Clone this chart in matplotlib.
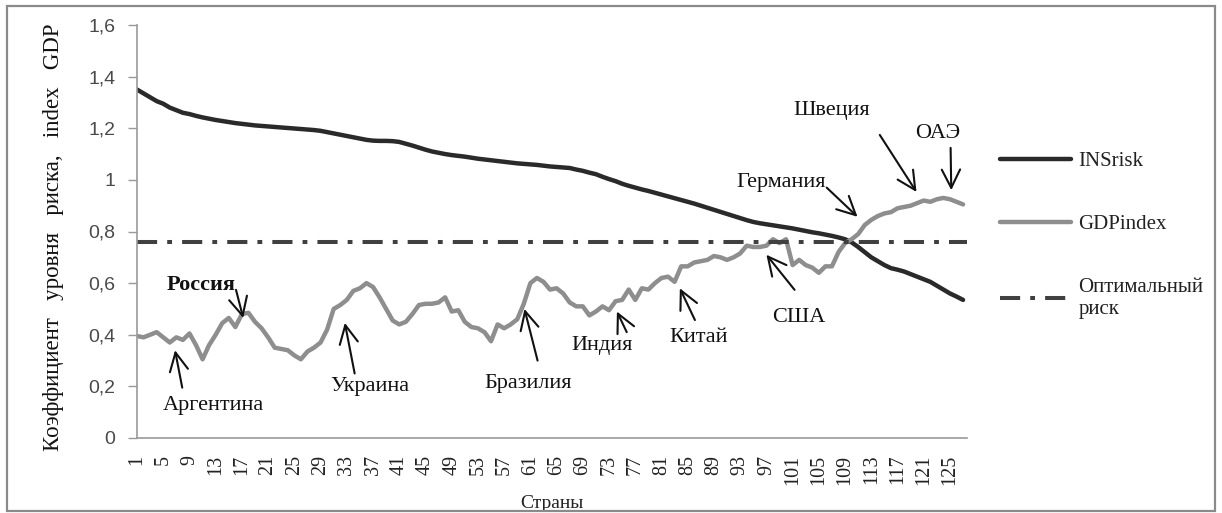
import numpy as np
import matplotlib
matplotlib.use('Agg')
import matplotlib.pyplot as plt
from matplotlib.patches import Rectangle

# --- data ---
countries = np.arange(1, 128)

ins_risk = [
    1.35, 1.335, 1.32, 1.305, 1.295, 1.28, 1.27, 1.26, 1.255, 1.248,
    1.242, 1.237, 1.232, 1.228, 1.224, 1.22, 1.217, 1.214, 1.211, 1.209,
    1.207, 1.205, 1.203, 1.201, 1.199, 1.197, 1.195, 1.193, 1.19, 1.185,
    1.18, 1.175, 1.17, 1.165, 1.16, 1.155, 1.152, 1.151, 1.151, 1.15,
    1.147, 1.14, 1.133, 1.125, 1.117, 1.11, 1.105, 1.1, 1.096, 1.093,
    1.09, 1.086, 1.082, 1.079, 1.076, 1.073, 1.07, 1.067, 1.064, 1.062,
    1.06, 1.058, 1.055, 1.052, 1.05, 1.048, 1.046, 1.04, 1.035, 1.028,
    1.022, 1.012, 1.003, 0.995, 0.985, 0.977, 0.97, 0.963, 0.957, 0.95,
    0.943, 0.936, 0.929, 0.922, 0.915, 0.908, 0.9, 0.892, 0.884, 0.876,
    0.868, 0.86, 0.852, 0.844, 0.837, 0.832, 0.828, 0.824, 0.82, 0.816,
    0.812, 0.807, 0.802, 0.797, 0.793, 0.788, 0.783, 0.777, 0.77, 0.758,
    0.74, 0.72, 0.70, 0.685, 0.67, 0.658, 0.652, 0.645, 0.635, 0.625,
    0.615, 0.605, 0.59, 0.575, 0.56, 0.548, 0.535,
]

gdp_index = [
    0.395, 0.39, 0.40, 0.41, 0.39, 0.37, 0.39, 0.38, 0.405, 0.36,
    0.305, 0.36, 0.40, 0.445, 0.465, 0.43, 0.48, 0.485, 0.45, 0.425,
    0.39, 0.35, 0.345, 0.34, 0.32, 0.305, 0.335, 0.35, 0.37, 0.42,
    0.50, 0.515, 0.535, 0.57, 0.58, 0.60, 0.585, 0.545, 0.50, 0.455,
    0.44, 0.45, 0.48, 0.515, 0.52, 0.52, 0.525, 0.545, 0.49, 0.495,
    0.45, 0.43, 0.425, 0.41, 0.375, 0.44, 0.425, 0.44, 0.46, 0.52,
    0.60, 0.62, 0.605, 0.575, 0.58, 0.56, 0.525, 0.51, 0.51, 0.475,
    0.49, 0.51, 0.495, 0.53, 0.535, 0.575, 0.535, 0.58, 0.575, 0.60,
    0.62, 0.625, 0.605, 0.665, 0.665, 0.68, 0.685, 0.69, 0.705, 0.70,
    0.69, 0.70, 0.715, 0.745, 0.74, 0.74, 0.745, 0.77, 0.755, 0.77,
    0.67, 0.69, 0.67, 0.66, 0.64, 0.665, 0.665, 0.72, 0.755, 0.77,
    0.79, 0.825, 0.845, 0.86, 0.87, 0.875, 0.89, 0.895, 0.90, 0.91,
    0.92, 0.915, 0.925, 0.93, 0.925, 0.915, 0.905,
]

optimal_risk = 0.76

# label, text position (x, y), arrow tip (x, y), arrow tail (x, y), bold
notes = [
    ('Аргентина', (12.6, 0.124), (6.8, 0.34), (7.9, 0.195), False),
    ('Россия', (10.75, 0.593), (17.2, 0.465), (16.1, 0.574), True),
    ('Украина', (36.5, 0.20), (32.7, 0.446), (34.2, 0.25), False),
    ('Бразилия', (60.6, 0.21), (60.1, 0.50), (62.1, 0.30), False),
    ('Индия', (71.9, 0.357), (74.2, 0.49), (75.7, 0.41), False),
    ('Китай', (86.7, 0.39), (83.8, 0.58), (86.1, 0.457), False),
    ('США', (102.0, 0.465), (97.0, 0.71), (101.3, 0.574), False),
    ('Германия', (99.3, 0.99), (110.9, 0.857), (106.2, 0.97), False),
    ('Швеция', (106.9, 1.27), (119.9, 0.953), (114.3, 1.174), False),
    ('ОАЭ', (123.1, 1.18), (125.2, 0.96), (125.1, 1.124), False),
]

SERIF = 'Liberation Serif'
SANS = 'Liberation Sans'

fig = plt.figure(figsize=(12.22, 5.13), dpi=100)
ax = fig.add_axes([137/1222, 1 - 438/513, (967 - 137)/1222, (438 - 25)/513])

ax.plot(countries, ins_risk, color='#2a2a2a', lw=3.2, label='INSrisk',
        solid_capstyle='round')
ax.plot(countries, gdp_index, color='#8e8e8e', lw=3.2, label='GDPindex',
        solid_capstyle='round')
ax.axhline(optimal_risk, color='#404040', lw=2.9,
           linestyle=(0, (5, 2.5, 1.2, 2.5)), dash_capstyle='butt',
           label='Оптимальный\nриск')

for text, xy_text, tip, tail, bold in notes:
    ax.text(xy_text[0], xy_text[1], text, family=SERIF, fontsize=16,
            weight='bold' if bold else 'normal', ha='center', va='center',
            color='#111111')
    ax.annotate('', xy=tip, xytext=tail,
                arrowprops=dict(arrowstyle='->,head_length=0.6,head_width=0.3',
                                color='#111111', lw=1.5,
                                mutation_scale=22, shrinkA=0, shrinkB=0))

ax.set_xlim(1, 127.6)
ax.set_ylim(0, 1.6)

yt = np.arange(0, 1.61, 0.2)
ax.set_yticks(yt)
ax.set_yticklabels([('%g' % round(v, 1)).replace('.', ',') for v in yt],
                   family=SANS, fontsize=14, color='#4a4a4a')
xt = np.arange(1, 127, 4)
ax.set_xticks(xt)
ax.set_xticklabels([str(v) for v in xt], rotation=90, family=SERIF,
                   fontsize=14.5, color='#222222')
ax.tick_params(axis='y', length=6.5, width=1, color='#999999', pad=9)
ax.tick_params(axis='x', length=0, pad=12)

for s in ['top', 'right']:
    ax.spines[s].set_visible(False)
for s in ['left', 'bottom']:
    ax.spines[s].set_color('#9a9a9a')
    ax.spines[s].set_linewidth(1.2)

ax.set_ylabel('Коэффициент   уровня   риска,   index   GDP', family=SERIF,
              fontsize=16.5, color='#111111', va='center')
ax.yaxis.set_label_coords(-0.1, 0.485)
ax.set_xlabel('Страны', family=SERIF, fontsize=14, color='#222222',
              va='center')
ax.xaxis.set_label_coords(0.5, -0.158)

leg = ax.legend(loc='upper left', bbox_to_anchor=(992/1222, 1 - 143/513),
                bbox_transform=fig.transFigure, frameon=False,
                prop={'family': SERIF, 'size': 15}, handlelength=3.4,
                handletextpad=0.35, labelspacing=2.1, borderaxespad=0)
for t in leg.get_texts():
    t.set_color('#222222')

fig.patches.append(Rectangle((7/1222, 2/513), 1208/1222, 505/513,
                             transform=fig.transFigure, fill=False,
                             edgecolor='#8a8a8a', lw=1.6))

fig.savefig('out.png', dpi=100)
